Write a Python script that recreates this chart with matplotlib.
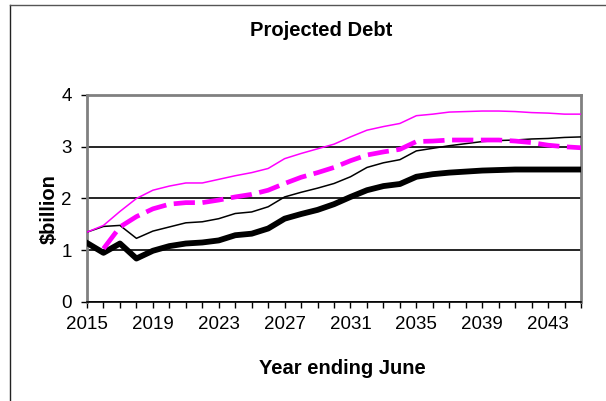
import matplotlib
matplotlib.use('Agg')
import matplotlib.pyplot as plt
from matplotlib.lines import Line2D

# years ending June
anos = list(range(2015, 2046))

# series ($billion)
rosa_alto = [1.35, 1.48, 1.75, 2.00, 2.16, 2.24, 2.30, 2.30, 2.37, 2.44, 2.50,
             2.58, 2.77, 2.87, 2.96, 3.05, 3.19, 3.32, 3.39, 3.45, 3.60, 3.63,
             3.67, 3.68, 3.69, 3.69, 3.68, 3.66, 3.65, 3.63, 3.63]
rosa_medio = [None, 1.03, 1.45, 1.65, 1.80, 1.89, 1.92, 1.92, 1.97, 2.03, 2.08,
              2.16, 2.29, 2.41, 2.50, 2.60, 2.73, 2.84, 2.90, 2.95, 3.10, 3.11,
              3.13, 3.13, 3.13, 3.13, 3.11, 3.08, 3.03, 3.00, 2.98]
negro_fino = [1.35, 1.46, 1.48, 1.23, 1.37, 1.45, 1.53, 1.55, 1.61, 1.71, 1.74,
              1.84, 2.03, 2.12, 2.20, 2.29, 2.42, 2.60, 2.69, 2.75, 2.92, 2.97,
              3.02, 3.06, 3.10, 3.12, 3.13, 3.15, 3.16, 3.18, 3.19]
negro_grueso = [1.14, 0.95, 1.13, 0.84, 0.99, 1.08, 1.13, 1.15, 1.19, 1.29, 1.32,
                1.42, 1.61, 1.70, 1.78, 1.89, 2.03, 2.16, 2.24, 2.28, 2.42, 2.47,
                2.50, 2.52, 2.54, 2.55, 2.56, 2.56, 2.56, 2.56, 2.56]

etiquetas_x = [str(a) for a in range(2015, 2045, 4)]
etiquetas_y = ['0', '1', '2', '3', '4']

plt.rcParams['font.family'] = ['Liberation Sans', 'DejaVu Sans']

fig = plt.figure(figsize=(6.06, 4.01), dpi=100)
ax = fig.add_axes([0.1436, 0.2469, 0.8152, 0.5162])

# marco exterior (se sale por la derecha y por abajo)
fig.add_artist(Line2D([10 / 606, 10 / 606], [0, 1 - 5 / 401], color='#222222', lw=1,
                      transform=fig.transFigure))
fig.add_artist(Line2D([10 / 606, 1], [1 - 5 / 401, 1 - 5 / 401], color='#555555', lw=1,
                      transform=fig.transFigure))

ax.plot(anos, negro_grueso, color='black', lw=4.2, solid_joinstyle='round', zorder=3)
ax.plot(anos, negro_fino, color='black', lw=1.1, zorder=3)
xs = [a for a, v in zip(anos, rosa_medio) if v is not None]
ys = [v for v in rosa_medio if v is not None]
ax.plot(xs, ys, color='#FF00FF', lw=3.4, dashes=(4.5, 1.6), zorder=3)
ax.plot(anos, rosa_alto, color='#FF00FF', lw=1.1, zorder=3)

ax.set_xlim(2015, 2045)
ax.set_ylim(0, 4)
ax.set_xticks(anos)
ax.set_xticklabels([str(a) if str(a) in etiquetas_x else '' for a in anos])
ax.set_yticks(range(5))
ax.set_yticklabels(etiquetas_y)

ax.yaxis.grid(True, color='black', lw=1.2)
ax.set_axisbelow(True)

for lado in ['top', 'right', 'left']:
    ax.spines[lado].set_color('#808080')
    ax.spines[lado].set_linewidth(2)
ax.spines['bottom'].set_color('black')
ax.spines['bottom'].set_linewidth(1.2)

ax.tick_params(axis='x', direction='out', length=4, width=1, pad=6, labelsize=13.5)
ax.tick_params(axis='y', direction='out', length=4, width=1, pad=7, labelsize=13.5)

# textos
fig.text(49 / 606, 1 - 209 / 401, '$billion', rotation=90, ha='center', va='center',
         fontsize=14.5, fontweight='bold')
fig.text(342 / 606, 1 - 368 / 401, 'Year ending June', ha='center', va='center',
         fontsize=14.5, fontweight='bold')
fig.text(321 / 606, 1 - 30 / 401, 'Projected Debt', ha='center', va='center',
         fontsize=14.5, fontweight='bold')

fig.savefig('out.png', dpi=100)
